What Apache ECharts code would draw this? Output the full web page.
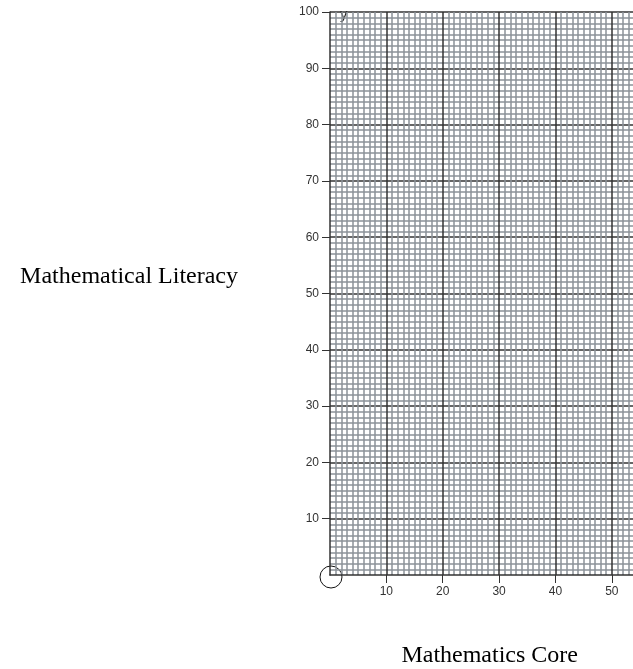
<!DOCTYPE html>
<html>
<head>
<meta charset="utf-8">
<script src="https://cdn.jsdelivr.net/npm/echarts@6/dist/echarts.min.js"></script>
<style>html,body{margin:0;padding:0;background:#fff;overflow:hidden}#c{width:633px;height:669px}</style>
</head>
<body>
<div id="c"></div>
<script>
// Axis setup
const xTitle = 'Mathematics Core';
const yTitle = 'Mathematical Literacy';
const xTicks = [10, 20, 30, 40, 50];
const yTicks = [10, 20, 30, 40, 50, 60, 70, 80, 90, 100];
const xRange = [0, 55];
const yRange = [0, 100];
const points = []; // the reference shows no plotted data

const chart = echarts.init(document.getElementById('c'), null, {renderer: 'canvas'});
chart.setOption({
  animation: false,
  grid: {left: 330, top: 12, width: 310, height: 563, containLabel: false, outerBoundsMode: 'none'},
  xAxis: {
    type: 'value', min: xRange[0], max: xRange[1], interval: 10,
    axisLine: {show: true, lineStyle: {color: '#333', width: 1.5}},
    axisTick: {show: true, length: 8, customValues: xTicks, lineStyle: {color: '#333'}},
    axisLabel: {customValues: xTicks, formatter: v => String(v), color: '#333', fontSize: 12, fontFamily: 'Liberation Sans', margin: 11},
    splitLine: {show: true, lineStyle: {color: '#333', width: 1.5}},
    minorTick: {show: true, splitNumber: 10, length: 0},
    minorSplitLine: {show: true, lineStyle: {color: '#8c9299', width: 1.5}}
  },
  yAxis: {
    type: 'value', min: yRange[0], max: yRange[1], interval: 10,
    axisLine: {show: true, lineStyle: {color: '#333', width: 1.5}},
    axisTick: {show: true, length: 8, customValues: yTicks, lineStyle: {color: '#333'}},
    axisLabel: {customValues: yTicks, formatter: v => String(v), color: '#333', fontSize: 12, fontFamily: 'Liberation Sans', margin: 11},
    splitLine: {show: true, lineStyle: {color: '#333', width: 1.5}},
    minorTick: {show: true, splitNumber: 10, length: 0},
    minorSplitLine: {show: true, lineStyle: {color: '#8c9299', width: 1.5}}
  },
  series: [{type: 'scatter', data: points}],
  graphic: [
    {type: 'text', x: 238, y: 277, style: {text: yTitle, font: '24px "Liberation Serif"', fill: '#000', align: 'right', verticalAlign: 'middle'}},
    {type: 'text', x: 578, y: 656, style: {text: xTitle, font: '24px "Liberation Serif"', fill: '#000', align: 'right', verticalAlign: 'middle'}},
    {type: 'text', x: 340, y: 7, style: {text: 'y', font: '15px "Liberation Sans"', fill: '#222'}},
    {type: 'circle', shape: {cx: 331, cy: 577, r: 11}, style: {fill: 'none', stroke: '#111', lineWidth: 1}}
  ]
});
</script>
</body>
</html>
